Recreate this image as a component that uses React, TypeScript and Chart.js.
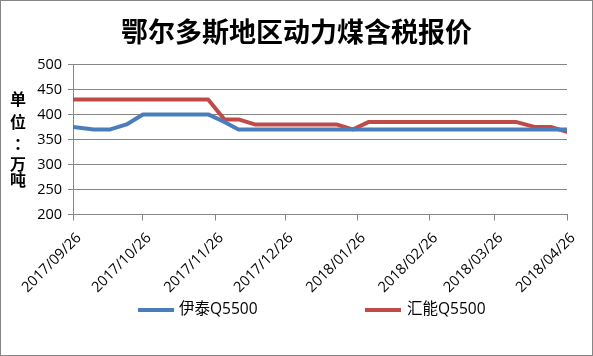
import React, { useEffect, useRef } from "react";
import { Chart, registerables } from "chart.js";

Chart.register(...registerables);

const chartTitle = "鄂尔多斯地区动力煤含税报价";
const yTitleChars = ["单", "位", "：", "万", "吨"];
const seriesNames = ["伊泰Q5500", "汇能Q5500"];
const seriesColors = ["#4A7EBB", "#BE4B48"];

const dates = [
  "2017/09/26", "2017/10/05", "2017/10/12", "2017/10/19", "2017/10/26",
  "2017/11/02", "2017/11/09", "2017/11/16", "2017/11/23", "2017/11/30",
  "2017/12/06", "2017/12/13", "2017/12/20", "2017/12/27", "2018/01/03",
  "2018/01/10", "2018/01/17", "2018/01/24", "2018/01/31", "2018/02/07",
  "2018/02/14", "2018/02/21", "2018/02/28", "2018/03/07", "2018/03/14",
  "2018/03/21", "2018/03/29", "2018/04/04", "2018/04/12", "2018/04/19",
  "2018/04/26",
];

const yitai = [
  375, 370, 370, 380, 400, 400, 400, 400, 400, 385,
  370, 370, 370, 370, 370, 370, 370, 370, 370, 370,
  370, 370, 370, 370, 370, 370, 370, 370, 370, 370,
  370,
];

const huineng = [
  430, 430, 430, 430, 430, 430, 430, 430, 430, 390,
  390, 380, 380, 380, 380, 380, 380, 370, 385, 385,
  385, 385, 385, 385, 385, 385, 385, 385, 375, 375,
  365,
];

const tickLabels = [
  "2017/09/26", "2017/10/26", "2017/11/26", "2017/12/26",
  "2018/01/26", "2018/02/26", "2018/03/26", "2018/04/26",
];

const yMin = 200;
const yMax = 500;
const yStep = 50;

function dayOf(s: string): number {
  const [y, m, d] = s.split("/").map(Number);
  return Date.UTC(y, m - 1, d) / 86400000;
}
const baseDay = dayOf(dates[0]);
const toX = (s: string) => dayOf(s) - baseDay;

const GRID = "#868686";

export default function App() {
  const ref = useRef<HTMLCanvasElement | null>(null);

  useEffect(() => {
    const tickVals = tickLabels.map(toX);

    const decor = {
      id: "decor",
      beforeDraw(chart: any) {
        const ctx = chart.ctx;
        ctx.save();
        ctx.fillStyle = "#ffffff";
        ctx.fillRect(0, 0, chart.width, chart.height);
        ctx.restore();
      },
      afterDraw(chart: any) {
        const ctx = chart.ctx;
        ctx.save();
        // outer border
        ctx.strokeStyle = GRID;
        ctx.lineWidth = 1;
        ctx.strokeRect(0.5, 0.5, chart.width - 1, chart.height - 1);

        // title
        ctx.fillStyle = "#000";
        ctx.textAlign = "center";
        ctx.textBaseline = "middle";
        ctx.font = "bold 27px 'Noto Sans CJK SC'";
        ctx.fillText(chartTitle, chart.width / 2, 32);

        // vertical y-axis title
        const ys = [98.5, 121.5, 144, 164, 180];
        yTitleChars.forEach((c, i) => {
          ctx.font = c === "：" ? "bold 16px 'Noto Sans CJK TC'" : "bold 16px 'Noto Sans CJK SC'";
          ctx.fillText(c, 18, ys[i]);
        });

        // legend
        const legendY = 310;
        const items = [
          { x0: 138, x1: 174, tx: 179 },
          { x0: 365, x1: 401, tx: 407 },
        ];
        items.forEach((it, i) => {
          ctx.strokeStyle = seriesColors[i];
          ctx.lineWidth = 4;
          ctx.beginPath();
          ctx.moveTo(it.x0, legendY);
          ctx.lineTo(it.x1, legendY);
          ctx.stroke();
          ctx.fillStyle = "#000";
          ctx.textAlign = "left";
          ctx.textBaseline = "middle";
          ctx.font = "15.5px 'Open Sans', 'Noto Sans CJK SC'";
          ctx.fillText(seriesNames[i], it.tx, legendY);
        });
        ctx.restore();
      },
    };

    const mk = (vals: number[]) => dates.map((d, i) => ({ x: toX(d), y: vals[i] }));

    const lineStyle = {
      borderWidth: 4,
      pointRadius: 0,
      tension: 0,
      borderJoinStyle: "round",
      borderCapStyle: "round",
    };

    const chart = new Chart(ref.current as HTMLCanvasElement, {
      type: "line",
      data: {
        datasets: [
          {
            label: seriesNames[0],
            data: mk(yitai),
            borderColor: seriesColors[0],
            backgroundColor: seriesColors[0],
            ...lineStyle,
          },
          {
            label: seriesNames[1],
            data: mk(huineng),
            borderColor: seriesColors[1],
            backgroundColor: seriesColors[1],
            ...lineStyle,
          },
        ],
      },
      options: {
        responsive: false,
        animation: false,
        layout: { padding: { left: 0, right: 26, top: 64.4, bottom: 0 } },
        plugins: {
          legend: { display: false },
          tooltip: { enabled: false },
          title: { display: false },
        },
        scales: {
          x: {
            type: "linear",
            min: tickVals[0],
            max: tickVals[tickVals.length - 1],
            afterBuildTicks: (s: any) => {
              s.ticks = tickVals.map((v) => ({ value: v }));
            },
            afterFit: (s: any) => {
              s.height = 141.5;
            },
            ticks: {
              autoSkip: false,
              minRotation: 45,
              maxRotation: 45,
              color: "#000",
              padding: 9,
              labelOffset: 6,
              font: { family: "'Open Sans'", size: 14.5 },
              callback: (_v: any, i: number) => tickLabels[i],
            },
            grid: { drawOnChartArea: false, drawTicks: true, tickLength: 6, color: GRID },
            border: { color: GRID, width: 1 },
          },
          y: {
            min: yMin,
            max: yMax,
            afterFit: (s: any) => {
              s.width = 73;
            },
            ticks: {
              stepSize: yStep,
              color: "#000",
              padding: 6,
              font: { family: "'Open Sans'", size: 14.5 },
            },
            grid: { color: GRID, tickLength: 5 },
            border: { color: GRID, width: 1 },
          },
        },
      } as any,
      plugins: [decor],
    });
    return () => chart.destroy();
  }, []);

  return (
    <div style={{ position: "fixed", left: 0, top: 0, width: 593, height: 356 }}>
      <canvas ref={ref} width={593} height={356} style={{ display: "block" }} />
    </div>
  );
}
